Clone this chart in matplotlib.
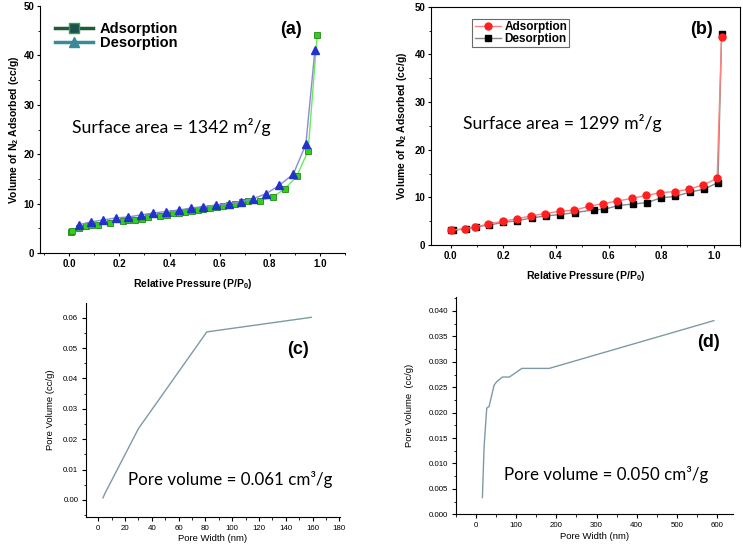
import matplotlib
matplotlib.use("Agg")
import matplotlib.pyplot as plt
from matplotlib.lines import Line2D
from matplotlib.ticker import MultipleLocator

plt.rcParams['font.family'] = ['Liberation Sans', 'DejaVu Sans']
plt.rcParams['mathtext.fontset'] = 'custom'
plt.rcParams['mathtext.rm'] = 'Liberation Sans'
plt.rcParams['mathtext.bf'] = 'Liberation Sans:bold'

# (a) isotherm
a_ads_x = [0.005, 0.01, 0.04, 0.065, 0.085, 0.113, 0.162, 0.213, 0.235, 0.262, 0.289, 0.313,
           0.362, 0.388, 0.412, 0.439, 0.463, 0.488, 0.512, 0.535, 0.561, 0.588, 0.612, 0.638,
           0.661, 0.688, 0.714, 0.761, 0.811, 0.86, 0.907, 0.953, 0.989]
a_ads_y = [4.2, 4.5, 5.0, 5.4, 5.6, 5.7, 6.1, 6.4, 6.6, 6.7, 6.9, 7.3,
           7.5, 7.7, 8.0, 8.2, 8.4, 8.6, 8.8, 8.9, 9.1, 9.3, 9.5, 9.8,
           10.0, 10.3, 10.6, 10.6, 11.3, 13.0, 15.5, 20.7, 44.1]
a_des_x = [0.037, 0.085, 0.136, 0.186, 0.235, 0.285, 0.335, 0.386, 0.436, 0.485, 0.535,
           0.585, 0.636, 0.685, 0.734, 0.785, 0.838, 0.894, 0.944, 0.98]
a_des_y = [5.7, 6.3, 6.7, 7.1, 7.3, 7.7, 8.1, 8.4, 8.7, 9.1, 9.4,
           9.7, 10.0, 10.4, 11.0, 12.0, 13.7, 16.0, 22.0, 41.1]

# (b) isotherm
b_ads_x = [0.0, 0.053, 0.093, 0.143, 0.198, 0.251, 0.306, 0.359, 0.414, 0.47, 0.524,
           0.579, 0.632, 0.689, 0.744, 0.797, 0.852, 0.905, 0.96, 1.013, 1.03]
b_ads_y = [3.1, 3.4, 3.8, 4.4, 5.0, 5.5, 6.1, 6.6, 7.1, 7.3, 8.1,
           8.7, 9.2, 9.8, 10.4, 11.0, 11.2, 11.7, 12.6, 14.0, 43.7]
b_des_x = [0.0, 0.01, 0.058, 0.096, 0.147, 0.2, 0.254, 0.308, 0.363, 0.416, 0.473,
           0.546, 0.584, 0.638, 0.692, 0.746, 0.8, 0.854, 0.909, 0.962, 1.016, 1.03]
b_des_y = [3.1, 3.1, 3.4, 3.8, 4.2, 4.75, 5.1, 5.7, 6.1, 6.4, 6.8,
           7.4, 7.5, 8.3, 8.6, 8.9, 9.9, 10.2, 11.1, 11.7, 13.1, 44.3]

# (c) and (d) pore size distribution
c_width = [3.5, 5, 30, 81, 159]
c_volume = [0.0007, 0.0022, 0.0235, 0.0553, 0.0601]
d_width = [15.8, 20, 26.6, 32.4, 44.9, 51.5, 65.6, 83, 114, 182, 592]
d_volume = [0.0033, 0.0133, 0.0209, 0.0212, 0.0254, 0.0261, 0.0270, 0.0270, 0.0287, 0.0287, 0.0381]

fig = plt.figure(figsize=(7.43, 5.5), dpi=100)

ax_a = fig.add_axes([0.0538, 0.54, 0.4105, 0.449])
ax_b = fig.add_axes([0.580, 0.5545, 0.416, 0.4333])
ax_c = fig.add_axes([0.1157, 0.06, 0.342, 0.389])
ax_d = fig.add_axes([0.6137, 0.0649, 0.373, 0.3956])

bold_tick = dict(fontsize=7, fontweight='bold')
calibri_like = ['Lato', 'DejaVu Sans']

# ---- panel (a)
ax_a.plot(a_ads_x, a_ads_y, color='#66ee55', lw=1, marker='s', ms=4.5,
          mfc='#33cc22', mec='#228811', mew=0.6)
ax_a.plot(a_des_x, a_des_y, color='#8a8ad8', lw=1, marker='^', ms=6,
          mfc='#2233cc', mec='#2233cc')
ax_a.set_xlim(-0.117, 1.1)
ax_a.set_ylim(0, 50)
ax_a.spines['top'].set_visible(False)
ax_a.spines['right'].set_visible(False)
ax_a.xaxis.set_minor_locator(MultipleLocator(0.1))
ax_a.yaxis.set_minor_locator(MultipleLocator(5))
ax_a.set_xticks([0, 0.2, 0.4, 0.6, 0.8, 1.0])
ax_a.set_xticklabels(['0.0', '0.2', '0.4', '0.6', '0.8', '1.0'], **bold_tick)
ax_a.set_yticks([0, 10, 20, 30, 40, 50])
ax_a.set_yticklabels(['0', '10', '20', '30', '40', '50'], **bold_tick)
ax_a.set_xlabel('Relative Pressure (P/P$_\\mathbf{0}$)', fontsize=7.5, fontweight='bold', labelpad=6)
ax_a.set_ylabel('Volume of N$_\\mathbf{2}$ Adsorbed (cc/g)', fontsize=7.5, fontweight='bold', labelpad=2)
ax_a.text(0.01, 25.5, 'Surface area = 1342 m²/g', fontsize=12.7, family=calibri_like,
          va='center', ha='left')
ax_a.text(0.84, 45.3, '(a)', fontsize=13, fontweight='bold', va='center')
handles_a = [Line2D([], [], color='#1f5a3a', lw=2.5, marker='s', ms=7, mfc='#1f4f4f', mec='#22aa44'),
             Line2D([], [], color='#3a8a9a', lw=2.5, marker='^', ms=7, mfc='#3a8a9a', mec='#3a8a9a')]
ax_a.legend(handles_a, ['Adsorption', 'Desorption'], loc='upper left', bbox_to_anchor=(0.025, 0.965),
            frameon=False, borderpad=0, labelspacing=0.0, handlelength=2.6, handletextpad=0.5,
            prop=dict(size=10.5, weight='bold'))

# ---- panel (b)
ax_b.plot(b_des_x, b_des_y, color='#888888', lw=1, marker='s', ms=4.5, mfc='black', mec='black')
ax_b.plot(b_ads_x, b_ads_y, color='#ff8080', lw=1, marker='o', ms=5, mfc='#ff2020', mec='#ff2020')
ax_b.set_xlim(-0.075, 1.1)
ax_b.set_ylim(0, 50)
ax_b.xaxis.set_minor_locator(MultipleLocator(0.1))
ax_b.yaxis.set_minor_locator(MultipleLocator(5))
ax_b.set_xticks([0, 0.2, 0.4, 0.6, 0.8, 1.0])
ax_b.set_xticklabels(['0.0', '0.2', '0.4', '0.6', '0.8', '1.0'], **bold_tick)
ax_b.set_yticks([0, 10, 20, 30, 40, 50])
ax_b.set_yticklabels(['0', '10', '20', '30', '40', '50'], **bold_tick)
ax_b.set_xlabel('Relative Pressure (P/P$_\\mathbf{0}$)', fontsize=7.5, fontweight='bold', labelpad=6)
ax_b.set_ylabel('Volume of N$_\\mathbf{2}$ Adsorbed (cc/g)', fontsize=7.5, fontweight='bold', labelpad=4)
ax_b.text(0.045, 25.5, 'Surface area = 1299 m²/g', fontsize=12.7, family=calibri_like,
          va='center', ha='left')
ax_b.text(0.91, 45.3, '(b)', fontsize=13, fontweight='bold', va='center')
handles_b = [Line2D([], [], color='#ff8080', lw=1, marker='o', ms=5, mfc='#ff2020', mec='#ff2020'),
             Line2D([], [], color='#888888', lw=1, marker='s', ms=4.5, mfc='black', mec='black')]
leg_b = ax_b.legend(handles_b, ['Adsorption', 'Desorption'], loc='upper left', bbox_to_anchor=(0.115, 0.975),
                    frameon=True, fancybox=False, borderpad=0.2, labelspacing=0.0, handlelength=2.2,
                    handletextpad=0.3, prop=dict(size=8.5, weight='bold'))
leg_b.get_frame().set_edgecolor('#444444')
leg_b.get_frame().set_linewidth(0.8)

for ax in (ax_a, ax_b):
    ax.tick_params(which='major', direction='out', length=2.5, width=0.8, pad=1.5)
    ax.tick_params(which='minor', direction='out', length=1.5, width=0.6)

# ---- panel (c)
line_col = '#7f9aa3'
ax_c.plot(c_width, c_volume, color=line_col, lw=1)
ax_c.set_xlim(-9.2, 180.5)
ax_c.set_ylim(-0.0056, 0.0648)
ax_c.set_xticks(range(0, 181, 20))
ax_c.set_xticklabels([str(v) for v in range(0, 181, 20)], fontsize=5.7)
ax_c.xaxis.set_minor_locator(MultipleLocator(10))
ax_c.set_yticks([0, 0.01, 0.02, 0.03, 0.04, 0.05, 0.06])
ax_c.set_yticklabels(['0.00', '0.01', '0.02', '0.03', '0.04', '0.05', '0.06'], fontsize=5.7)
ax_c.yaxis.set_minor_locator(MultipleLocator(0.005))
ax_c.set_xlabel('Pore Width (nm)', fontsize=6.8, labelpad=2)
ax_c.set_ylabel('Pore Volume (cc/g)', fontsize=6.8, labelpad=6)
ax_c.text(22, 0.0068, 'Pore volume = 0.061 cm³/g', fontsize=12.2, family=calibri_like,
          va='center', ha='left')
ax_c.text(141, 0.0495, '(c)', fontsize=13, fontweight='bold', va='center')

# ---- panel (d)
ax_d.plot(d_width, d_volume, color=line_col, lw=1)
ax_d.set_xlim(-50, 640)
ax_d.set_ylim(0, 0.0428)
ax_d.set_xticks(range(0, 601, 100))
ax_d.set_xticklabels([str(v) for v in range(0, 601, 100)], fontsize=5.7)
ax_d.xaxis.set_minor_locator(MultipleLocator(50))
yt = [0, 0.005, 0.01, 0.015, 0.02, 0.025, 0.03, 0.035, 0.04]
ax_d.set_yticks(yt)
ax_d.set_yticklabels(['%.3f' % v for v in yt], fontsize=5.7)
ax_d.yaxis.set_minor_locator(MultipleLocator(0.0025))
ax_d.set_xlabel('Pore Width (nm)', fontsize=6.8, labelpad=2)
ax_d.set_ylabel('Pore Volume  (cc/g)', fontsize=6.8, labelpad=11)
ax_d.text(70, 0.0078, 'Pore volume = 0.050 cm³/g', fontsize=12.2, family=calibri_like,
          va='center', ha='left')
ax_d.text(551, 0.0337, '(d)', fontsize=13, fontweight='bold', va='center')

for ax in (ax_c, ax_d):
    ax.spines['top'].set_visible(False)
    ax.spines['right'].set_visible(False)
    ax.tick_params(which='major', direction='out', length=3, width=0.8, pad=2.5)
    ax.tick_params(which='minor', direction='out', length=1.8, width=0.6)

fig.savefig('out.png', dpi=100)
